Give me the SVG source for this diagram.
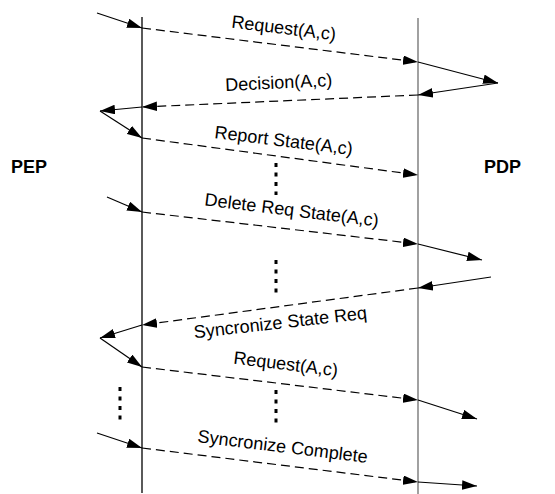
<svg xmlns="http://www.w3.org/2000/svg" width="555" height="494" viewBox="0 0 555 494">
  <style>
    .life { stroke: #000; stroke-width: 1.3; fill: none; }
    .life.pdp { stroke: #6e6e6e; }
    .msg { stroke: #000; stroke-width: 1.2; fill: none; marker-end: url(#head); }
    .msg.dash { stroke-dasharray: 9 5; }
    .dots { stroke: #000; stroke-width: 3; stroke-dasharray: 4 5.5; fill: none; }
    .lbl { font-family: "Liberation Sans", Arial, sans-serif; font-size: 18px; fill: #000; text-anchor: middle; }
    .ent { font-family: "Liberation Sans", Arial, sans-serif; font-size: 18px; font-weight: bold; fill: #000; }
  </style>
  <defs>
    <marker id="head" markerWidth="16" markerHeight="10" refX="15" refY="4.75" orient="auto" markerUnits="userSpaceOnUse">
      <path d="M0,0 L15,4.75 L0,9.5 Z" fill="#000"/>
    </marker>
  </defs>
  <rect width="555" height="494" fill="#fff"/>

  <g id="pep">
    <line class="life" x1="142" y1="17" x2="142" y2="493"/>
    <text class="ent" x="11" y="173">PEP</text>
  </g>
  <g id="pdp">
    <line class="life pdp" x1="418" y1="18" x2="418" y2="494"/>
    <text class="ent" x="484" y="173">PDP</text>
  </g>

  <g id="connectors">
    <line class="msg" x1="97" y1="13" x2="142" y2="28"/>
    <line class="msg dash" x1="142" y1="28" x2="418" y2="62"/>
    <line class="msg" x1="418" y1="62" x2="498" y2="83"/>
    <line class="msg" x1="498" y1="83" x2="418" y2="95"/>
    <line class="msg dash" x1="418" y1="95" x2="142" y2="107"/>
    <line class="msg" x1="142" y1="107" x2="100" y2="111"/>
    <line class="msg" x1="100" y1="111" x2="142" y2="138"/>
    <line class="msg dash" x1="142" y1="138" x2="418" y2="175"/>
    <line class="msg" x1="107" y1="197" x2="142" y2="212"/>
    <line class="msg dash" x1="142" y1="212" x2="418" y2="244"/>
    <line class="msg" x1="418" y1="244" x2="482" y2="260"/>
    <line class="msg" x1="491" y1="277" x2="418" y2="288"/>
    <line class="msg dash" x1="418" y1="288" x2="142" y2="325"/>
    <line class="msg" x1="142" y1="325" x2="100" y2="338"/>
    <line class="msg" x1="100" y1="338" x2="142" y2="367"/>
    <line class="msg dash" x1="142" y1="367" x2="418" y2="400"/>
    <line class="msg" x1="418" y1="400" x2="477" y2="419"/>
    <line class="msg" x1="97" y1="433" x2="142" y2="448"/>
    <line class="msg dash" x1="142" y1="448" x2="418" y2="482"/>
    <line class="msg" x1="418" y1="482" x2="477" y2="486"/>

    <!-- elided message runs -->
    <line class="dots" x1="276" y1="163" x2="276" y2="195"/>
    <line class="dots" x1="276" y1="260" x2="276" y2="294"/>
    <line class="dots" x1="276" y1="390" x2="276" y2="424"/>
    <line class="dots" x1="120" y1="387" x2="120" y2="421"/>
  </g>

  <g id="labels">
    <text class="lbl" transform="translate(283,34) rotate(7)">Request(A,c)</text>
    <text class="lbl" transform="translate(279,88.5) rotate(-2.7)">Decision(A,c)</text>
    <text class="lbl" transform="translate(283,146.5) rotate(7)">Report State(A,c)</text>
    <text class="lbl" transform="translate(291,216) rotate(7)">Delete Req State(A,c)</text>
    <text class="lbl" transform="translate(281,328.5) rotate(-6.5)">Syncronize State Req</text>
    <text class="lbl" transform="translate(285,370) rotate(7)">Request(A,c)</text>
    <text class="lbl" transform="translate(282,452.5) rotate(7)">Syncronize Complete</text>
  </g>
</svg>
